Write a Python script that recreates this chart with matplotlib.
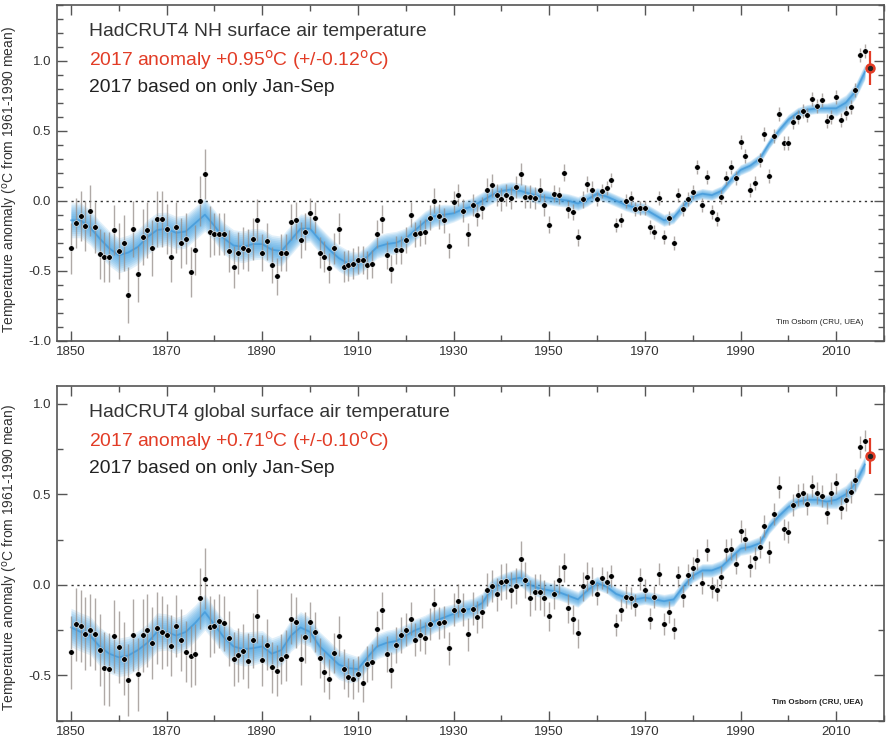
import numpy as np
import matplotlib
matplotlib.use('Agg')
import matplotlib.pyplot as plt
from matplotlib.ticker import MultipleLocator, FormatStrFormatter

plt.rcParams['font.family'] = ['Liberation Sans', 'DejaVu Sans']
plt.rcParams['axes.unicode_minus'] = False

# ---------------- data ----------------
years = list(range(1850, 2017))

nh_anom = [
    -0.34, -0.16, -0.11, -0.18, -0.07, -0.19, -0.38, -0.40, -0.40, -0.21,   # 1850s
    -0.36, -0.30, -0.67, -0.20, -0.52, -0.26, -0.21, -0.34, -0.13, -0.13,   # 1860s
    -0.20, -0.40, -0.19, -0.30, -0.27, -0.51, -0.35, 0.00, 0.19, -0.22,     # 1870s
    -0.24, -0.24, -0.24, -0.36, -0.47, -0.37, -0.34, -0.35, -0.27, -0.14,   # 1880s
    -0.37, -0.29, -0.46, -0.54, -0.37, -0.37, -0.15, -0.14, -0.28, -0.22,   # 1890s
    -0.09, -0.12, -0.37, -0.40, -0.48, -0.34, -0.20, -0.47, -0.46, -0.45,   # 1900s
    -0.42, -0.42, -0.46, -0.45, -0.24, -0.13, -0.39, -0.49, -0.35, -0.35,   # 1910s
    -0.28, -0.10, -0.24, -0.23, -0.22, -0.12, 0.00, -0.11, -0.14, -0.32,    # 1920s
    -0.01, 0.04, -0.07, -0.24, -0.03, -0.10, -0.05, 0.08, 0.11, 0.04,       # 1930s
    0.01, 0.04, 0.02, 0.10, 0.19, 0.03, 0.03, 0.02, 0.08, -0.03,            # 1940s
    -0.17, 0.05, 0.04, 0.20, -0.06, -0.08, -0.26, 0.01, 0.12, 0.08,         # 1950s
    0.01, 0.07, 0.09, 0.15, -0.17, -0.14, 0.00, 0.02, -0.06, -0.05,         # 1960s
    -0.05, -0.19, -0.22, 0.02, -0.26, -0.12, -0.30, 0.04, -0.06, 0.01,      # 1970s
    0.06, 0.24, -0.03, 0.17, -0.08, -0.13, 0.03, 0.16, 0.24, 0.16,          # 1980s
    0.42, 0.32, 0.08, 0.13, 0.29, 0.48, 0.18, 0.46, 0.62, 0.41,             # 1990s
    0.41, 0.56, 0.60, 0.64, 0.61, 0.73, 0.68, 0.72, 0.57, 0.60,             # 2000s
    0.74, 0.58, 0.63, 0.67, 0.79, 1.04, 1.07,                               # 2010s
]

gl_anom = [
    -0.373, -0.218, -0.228, -0.269, -0.248, -0.272, -0.358, -0.461, -0.467, -0.284,
    -0.343, -0.407, -0.524, -0.278, -0.494, -0.279, -0.251, -0.321, -0.238, -0.262,
    -0.276, -0.335, -0.227, -0.304, -0.368, -0.395, -0.384, -0.075, 0.035, -0.230,
    -0.227, -0.200, -0.213, -0.296, -0.409, -0.389, -0.367, -0.418, -0.307, -0.171,
    -0.416, -0.330, -0.455, -0.473, -0.410, -0.390, -0.186, -0.206, -0.412, -0.289,
    -0.203, -0.259, -0.402, -0.479, -0.520, -0.377, -0.283, -0.465, -0.511, -0.522,
    -0.490, -0.544, -0.437, -0.424, -0.244, -0.141, -0.383, -0.468, -0.333, -0.275,
    -0.247, -0.187, -0.302, -0.276, -0.294, -0.215, -0.108, -0.210, -0.206, -0.350,
    -0.137, -0.087, -0.137, -0.273, -0.131, -0.178, -0.147, -0.026, -0.006, -0.052,
    0.014, 0.020, -0.027, -0.004, 0.144, 0.025, -0.071, -0.038, -0.039, -0.074,
    -0.173, -0.052, 0.028, 0.097, -0.129, -0.190, -0.267, -0.007, 0.046, 0.017,
    -0.049, 0.038, 0.014, 0.048, -0.223, -0.140, -0.068, -0.074, -0.113, 0.032,
    -0.027, -0.186, -0.065, 0.062, -0.214, -0.149, -0.241, 0.047, -0.062, 0.057,
    0.092, 0.140, 0.011, 0.194, -0.014, -0.030, 0.045, 0.192, 0.198, 0.118,
    0.296, 0.254, 0.105, 0.148, 0.208, 0.325, 0.183, 0.390, 0.539, 0.306,
    0.294, 0.441, 0.496, 0.505, 0.447, 0.545, 0.506, 0.491, 0.395, 0.506,
    0.560, 0.425, 0.470, 0.514, 0.579, 0.763, 0.797,
]

# smoothed curves (read every 2 years, 1850-2016)
smooth_years = list(range(1850, 2017, 2))
nh_smooth = [
    -0.14, -0.14, -0.19, -0.27, -0.34, -0.39, -0.37, -0.33, -0.26, -0.21,
    -0.20, -0.23, -0.22, -0.16, -0.10, -0.18, -0.27, -0.32, -0.33, -0.31,
    -0.31, -0.35, -0.36, -0.28, -0.20, -0.20, -0.28, -0.35, -0.41, -0.45,
    -0.45, -0.40, -0.33, -0.31, -0.30, -0.27, -0.21, -0.15, -0.11, -0.10,
    -0.09, -0.06, -0.04, 0.00, 0.04, 0.07, 0.08, 0.07, 0.05, 0.03,
    0.02, 0.01, 0.00, -0.02, 0.01, 0.05, 0.03, 0.00, -0.03, -0.05,
    -0.06, -0.10, -0.14, -0.12, -0.04, 0.03, 0.05, 0.04, 0.07, 0.15,
    0.22, 0.25, 0.30, 0.41, 0.50, 0.58, 0.63, 0.65, 0.66, 0.66,
    0.66, 0.70, 0.78, 0.92,
]
gl_smooth = [
    -0.235, -0.26, -0.28, -0.34, -0.38, -0.40, -0.39, -0.36, -0.32, -0.26,
    -0.26, -0.28, -0.26, -0.21, -0.15, -0.22, -0.29, -0.34, -0.355, -0.35,
    -0.34, -0.38, -0.36, -0.28, -0.235, -0.26, -0.34, -0.39, -0.44, -0.46,
    -0.465, -0.40, -0.34, -0.32, -0.31, -0.28, -0.25, -0.23, -0.20, -0.18,
    -0.16, -0.14, -0.13, -0.10, -0.02, 0.01, 0.03, 0.04, 0.00, -0.02,
    -0.03, -0.04, -0.06, -0.08, -0.03, 0.01, -0.01, -0.05, -0.07, -0.08,
    -0.07, -0.08, -0.09, -0.08, -0.01, 0.05, 0.08, 0.08, 0.10, 0.15,
    0.20, 0.21, 0.23, 0.32, 0.38, 0.43, 0.46, 0.47, 0.47, 0.46,
    0.47, 0.50, 0.56, 0.665,
]

# uncertainty by decade (1850s ... 2010s)
decades = list(range(1850, 2020, 10))
nh_err_dec = [0.18, 0.20, 0.18, 0.15, 0.13, 0.11, 0.10, 0.09, 0.08, 0.08,
              0.06, 0.05, 0.05, 0.05, 0.05, 0.05, 0.05]
gl_err_dec = [0.20, 0.20, 0.17, 0.15, 0.14, 0.11, 0.10, 0.09, 0.09, 0.10,
              0.08, 0.06, 0.06, 0.06, 0.06, 0.06, 0.06]
nh_band_dec = [0.10, 0.10, 0.095, 0.09, 0.085, 0.075, 0.065, 0.06, 0.05, 0.045,
               0.04, 0.035, 0.035, 0.03, 0.03, 0.03, 0.045]
gl_band_dec = [0.085, 0.085, 0.08, 0.075, 0.07, 0.065, 0.055, 0.05, 0.045, 0.04,
               0.035, 0.03, 0.03, 0.03, 0.03, 0.03, 0.04]

nh_2017, nh_2017_err = 0.95, 0.12
gl_2017, gl_2017_err = 0.71, 0.10

titles_nh = ["HadCRUT4 NH surface air temperature",
             "2017 anomaly +0.95$^{\\rm o}$C (+/-0.12$^{\\rm o}$C)",
             "2017 based on only Jan-Sep"]
titles_gl = ["HadCRUT4 global surface air temperature",
             "2017 anomaly +0.71$^{\\rm o}$C (+/-0.10$^{\\rm o}$C)",
             "2017 based on only Jan-Sep"]
ylabel = "Temperature anomaly ($^{\\rm o}$C from 1961-1990 mean)"
credit = "Tim Osborn (CRU, UEA)"

# ---------------- plotting ----------------
W, H = 886, 743
fig = plt.figure(figsize=(W / 100, H / 100), dpi=100)

left, right = 56.6, 884
ax1 = fig.add_axes([left / W, 1 - 340.7 / H, (right - left) / W, (340.7 - 4.7) / H])
ax2 = fig.add_axes([left / W, 1 - 720.7 / H, (right - left) / W, (720.7 - 385.7) / H])

RED = '#e23c26'
BLUE = '#45a3e3'


def dec_lookup(arr, yrs):
    return np.array([arr[(y - 1850) // 10] for y in yrs])


def draw_panel(ax, vals, sm, err_dec, band_dec, v17, e17, titles, credit_bold):
    yrs = np.array(years)
    vals = np.array(vals)
    sy = np.array(smooth_years)
    sm = np.array(sm)
    hw = dec_lookup(band_dec, sy)
    # smoothed band with soft gradient
    for frac in [1.25, 1.1, 0.95, 0.8, 0.65, 0.5, 0.35, 0.2]:
        ax.fill_between(sy, sm - hw * frac, sm + hw * frac, color=BLUE,
                        alpha=0.16, lw=0, zorder=2)
    ax.plot(sy, sm, color='#2a88d2', lw=1.3, alpha=0.5, zorder=2.5,
            solid_joinstyle='round')
    # zero line
    ax.plot([1850, 2018], [0, 0], color='#333333', lw=1.0,
            ls=(0, (1.6, 2.6)), zorder=1)
    # error bars and points
    err = dec_lookup(err_dec, yrs)
    ax.vlines(yrs, vals - err, vals + err, color='#958d88', lw=1.0,
              alpha=0.75, zorder=3)
    ax.plot(yrs, vals, 'o', ms=4.0, mfc='black', mec='white', mew=0.4,
            zorder=5)
    # 2017 value
    ax.vlines([2017], [v17 - e17], [v17 + e17], color=RED, lw=1.6, zorder=6)
    ax.plot([2017], [v17], 'o', ms=6.5, mfc=RED, mec=RED, zorder=7)
    ax.plot([2017], [v17], 'o', ms=2.8, mfc='#222222', mec='#222222', zorder=8)
    # texts
    ys = [0.919, 0.835, 0.754]
    cols = ['#333333', RED, '#222222']
    for t, yy, c in zip(titles, ys, cols):
        ax.text(0.039, yy, t, transform=ax.transAxes, fontsize=13.9,
                color=c, va='center', ha='left')
    ax.text(0.975, 0.054, credit, transform=ax.transAxes, fontsize=5.8,
            color='#222222', ha='right', va='center',
            fontweight='bold' if credit_bold else 'normal')
    # axes styling
    ax.set_xlim(1847, 2020)
    ax.set_xticks(list(range(1850, 2020, 20)))
    ax.xaxis.set_minor_locator(MultipleLocator(10))
    for sp in ax.spines.values():
        sp.set_color('#555555')
        sp.set_linewidth(1.2)
    ax.tick_params(which='both', direction='in', top=True, right=True,
                   color='#555555', width=1.0)
    ax.tick_params(which='major', length=7, labelsize=9.5,
                   labelcolor='#333333', pad=4)
    ax.tick_params(which='minor', length=4)
    ax.yaxis.set_major_formatter(FormatStrFormatter('%.1f'))


draw_panel(ax1, nh_anom, nh_smooth, nh_err_dec, nh_band_dec, nh_2017,
           nh_2017_err, titles_nh, False)
ax1.set_ylim(-1.0, 1.4)
ax1.set_yticks([-1.0, -0.5, 0.0, 0.5, 1.0])
ax1.yaxis.set_minor_locator(MultipleLocator(0.1))

draw_panel(ax2, gl_anom, gl_smooth, gl_err_dec, gl_band_dec, gl_2017,
           gl_2017_err, titles_gl, True)
ax2.set_ylim(-0.75, 1.1)
ax2.set_yticks([-0.5, 0.0, 0.5, 1.0])
ax2.yaxis.set_minor_locator(MultipleLocator(0.25))

fig.text(11 / W, 1 - 180 / H, ylabel, rotation=90, ha='center', va='center',
         fontsize=10, color='#333333')
fig.text(11 / W, 1 - 558 / H, ylabel, rotation=90, ha='center', va='center',
         fontsize=10, color='#333333')

fig.savefig('out.png', dpi=100)
